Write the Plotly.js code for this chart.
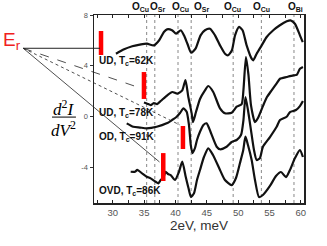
<!DOCTYPE html>
<html><head><meta charset="utf-8">
<script src="https://cdn.plot.ly/plotly-3.0.1.min.js"></script>
<style>html,body{margin:0;padding:0;background:#fff}#chart{width:327px;height:246px}</style>
</head><body><div id="chart"></div>
<script>
// --- data (2eV in meV, d2I/dV2 in arbitrary offset units) ---
const ud62X = [30.5,31.8,33.1,34.5,35.45,36.55,37.4,38.15,38.65,39.45,40.1,40.85,41.35,41.9,42.5,43.2,44.0,44.7,45.5,46.3,47.1,47.9,48.4,49.0,49.5,50.15,50.7,51.35,52.15,52.4,52.95,53.75,54.55,55.6,56.65,57.75,58.35,59.05,59.85,60.3];
const ud62Y = [4.95,5.30,5.54,5.69,5.74,5.61,6.01,6.66,6.87,6.80,6.53,6.80,6.40,5.74,5.03,5.35,6.40,6.80,6.92,6.40,5.61,4.95,4.83,5.22,6.40,7.06,6.80,5.61,4.56,4.43,4.95,5.61,6.27,6.80,7.19,7.50,7.58,7.31,6.40,5.87];

const ud78X = [34.97,35.50,36.04,36.57,37.05,37.64,38.69,39.49,40.29,41.08,41.59,42.04,42.58,42.79,43.27,43.91,44.70,45.23,46.02,47.10,47.89,48.96,49.76,50.56,50.84,51.24,51.64,52.04,52.68,53.16,54.00,54.59,55.34,56.14,56.67,57.73,58.79,59.33,59.85,60.33];
const ud78Y = [1.11,1.02,0.91,1.07,0.99,1.23,1.68,1.94,1.80,2.07,2.88,1.57,0.26,-0.43,0.36,1.39,2.07,2.41,1.94,0.65,0.26,0.31,0.78,0.99,2.09,4.69,3.28,0.91,-0.43,-0.11,0.89,1.54,2.07,2.62,2.98,3.12,3.25,3.28,3.77,3.91];

const od91X = [32.22,33.27,34.34,35.41,37.00,38.59,39.44,40.19,40.72,41.27,41.78,42.15,42.44,42.71,43.11,43.43,43.91,44.46,44.97,45.66,46.57,47.10,48.16,48.96,49.76,50.45,50.84,51.16,51.56,52.04,52.52,52.95,53.47,53.95,55.07,56.14,56.67,57.73,58.26,59.22,59.85,60.33];
const od91Y = [-0.53,-0.80,-0.86,-0.92,-0.80,-0.53,-0.27,-0.01,0.28,0.65,0.39,-0.66,-2.24,-2.87,-2.47,-1.84,-1.19,-0.66,-0.53,-1.29,-2.37,-2.57,-2.37,-2.00,-1.84,-1.45,-0.27,1.54,0.52,-1.06,-2.63,-3.42,-3.26,-2.37,-1.61,-0.80,-0.27,-0.01,0.36,0.52,0.83,1.23];

const ovd86X = [32.85,33.54,33.91,34.61,35.41,36.04,36.84,37.26,37.64,38.05,38.44,38.80,39.23,39.92,40.56,41.08,41.63,42.07,42.47,42.95,43.43,43.91,44.54,45.23,45.98,47.10,47.89,48.96,49.65,50.29,50.81,51.16,51.56,52.15,52.68,53.32,53.95,55.07,56.03,56.83,57.62,58.26,59.06,59.85,60.33];
const ovd86Y = [-4.34,-4.34,-4.20,-4.44,-4.73,-4.86,-5.13,-5.25,-4.99,-4.83,-4.34,-4.52,-4.60,-4.99,-4.34,-3.55,-4.73,-5.62,-6.33,-6.04,-4.99,-4.20,-3.18,-2.50,-3.02,-4.20,-4.99,-5.39,-4.83,-3.65,-2.63,-1.58,-2.24,-3.42,-4.99,-6.33,-6.17,-5.46,-4.68,-4.36,-4.76,-4.20,-3.26,-2.63,-3.18];

const curveNames = ["UD, T<sub>c</sub>=62K","UD, T<sub>c</sub>=78K","OD, T<sub>c</sub>=91K","OVD, T<sub>c</sub>=86K"];
const curveLabelY = [4.38,0.28,-1.61,-5.86];

// phonon mode energies (dotted lines) and labels
const modeE = [35.4,36.7,40.4,42.5,49.2,53.7,58.9];
const modeLabels = ["O<sub>Cu</sub>","O<sub>Sr</sub>","O<sub>Cu</sub>","O<sub>Sr</sub>","O<sub>Cu</sub>","O<sub>Cu</sub>","O<sub>Bi</sub>"];
const modeLabelX = [34.34,37.05,40.72,44.07,49.17,53.79,59.22];

// red bars: E_r positions
const barX = [28.12,34.97,41.19,38.05];
const barTop = [6.74,3.51,-0.74,-2.87];
const barBottom = [4.85,1.39,-2.55,-5.07];
// pointer targets from the E_r label
const ptrX = [27.96,34.70,40.72,37.45];
const ptrY = [5.38,2.20,-0.66,-3.57];
const ptrDash = ["solid","dash","dot","solid"];

const xTicks = [30,35,40,45,50,55,60];
const yTicks = [8,4,0,-4];

const xr = [27,60.5], yr = [-6.8,8];

// --- traces ---
const lineStyle = {color:'#111', width:2.2, shape:'spline', smoothing:0.6};
const traces = [
  {x:ud62X, y:ud62Y, mode:'lines', line:lineStyle, hoverinfo:'skip'},
  {x:ud78X, y:ud78Y, mode:'lines', line:lineStyle, hoverinfo:'skip'},
  {x:od91X, y:od91Y, mode:'lines', line:lineStyle, hoverinfo:'skip'},
  {x:ovd86X, y:ovd86Y, mode:'lines', line:lineStyle, hoverinfo:'skip'}
];
const bx=[], by=[];
barX.forEach((v,i)=>{bx.push(v,v,null); by.push(barBottom[i],barTop[i],null);});
traces.push({x:bx, y:by, mode:'lines', line:{color:'#f00', width:4.5}, hoverinfo:'skip'});

// --- shapes ---
const shapes = modeE.map(e=>({type:'line', xref:'x', yref:'paper', x0:e, x1:e, y0:0, y1:1,
  line:{color:'#888', width:1, dash:'dot'}, layer:'below'}));
const toPX = x => (x-xr[0])/(xr[1]-xr[0]);
const toPY = y => (y-yr[0])/(yr[1]-yr[0]);
const origin = [-0.337, 0.823];
ptrX.forEach((v,i)=>{
  shapes.push({type:'line', xref:'paper', yref:'paper', x0:origin[0], y0:origin[1],
    x1:toPX(v), y1:toPY(ptrY[i]), line:{color:'#222', width:i===0?1:0.8, dash:ptrDash[i]}});
});
// fraction bar for d2I/dV2
shapes.push({type:'line', xref:'paper', yref:'paper', x0:-0.200, x1:-0.086, y0:0.457, y1:0.457, line:{color:'#000', width:1}});

// --- annotations ---
const annotations = [];
curveNames.forEach((t,i)=>annotations.push({text:'<b>'+t+'</b>', x:27.45, y:curveLabelY[i], xref:'x', yref:'y',
  xanchor:'left', yanchor:'middle', showarrow:false, font:{family:'Liberation Sans, Arial', size:10, color:'#111'}}));
modeLabels.forEach((t,i)=>annotations.push({text:'<b>'+t+'</b>', x:modeLabelX[i], y:1.045, xref:'x', yref:'paper',
  xanchor:'center', yanchor:'middle', showarrow:false, font:{family:'Liberation Sans, Arial', size:10, color:'#111'}}));
annotations.push({text:'E<sub>r</sub>', x:-0.39, y:0.862, xref:'paper', yref:'paper', xanchor:'center', yanchor:'middle',
  showarrow:false, font:{family:'Liberation Sans, Arial', size:19, color:'#f02020'}});
annotations.push({text:'<i>d</i><sup>2</sup><i>I</i>', x:-0.143, y:0.505, xref:'paper', yref:'paper', xanchor:'center', yanchor:'middle',
  showarrow:false, font:{family:'Liberation Serif, Times New Roman', size:17, color:'#000'}});
annotations.push({text:'<i>dV</i><sup>2</sup>', x:-0.143, y:0.392, xref:'paper', yref:'paper', xanchor:'center', yanchor:'middle',
  showarrow:false, font:{family:'Liberation Serif, Times New Roman', size:17, color:'#000'}});

const layout = {
  width:327, height:246,
  margin:{l:94, r:23, t:15, b:43, pad:0},
  paper_bgcolor:'#fff', plot_bgcolor:'#fff',
  showlegend:false,
  xaxis:{range:xr, tickvals:xTicks, ticktext:xTicks.map(String), ticks:'inside', ticklen:3, tickwidth:1, tickcolor:'#222',
    minor:{dtick:2.5, ticks:'inside', ticklen:3, tickcolor:'#222'},
    showline:true, linecolor:'#222', linewidth:1.5, mirror:'ticks', showgrid:false, zeroline:false,
    tickfont:{family:'Liberation Sans, Arial', size:9.5, color:'#555'},
    title:{text:'2eV, meV', standoff:3, font:{family:'Liberation Sans, Arial', size:13.5, color:'#333'}}},
  yaxis:{range:yr, tickvals:yTicks, ticktext:yTicks.map(String), ticks:'outside', ticklen:3, tickwidth:1, tickcolor:'#333',
    showline:true, linecolor:'#222', linewidth:1.5, mirror:true, showgrid:false, zeroline:false,
    tickfont:{family:'Liberation Sans, Arial', size:7.5, color:'#555'}},
  shapes:shapes, annotations:annotations
};
Plotly.newPlot('chart', traces, layout, {staticPlot:true, displayModeBar:false});
</script>
</body></html>
